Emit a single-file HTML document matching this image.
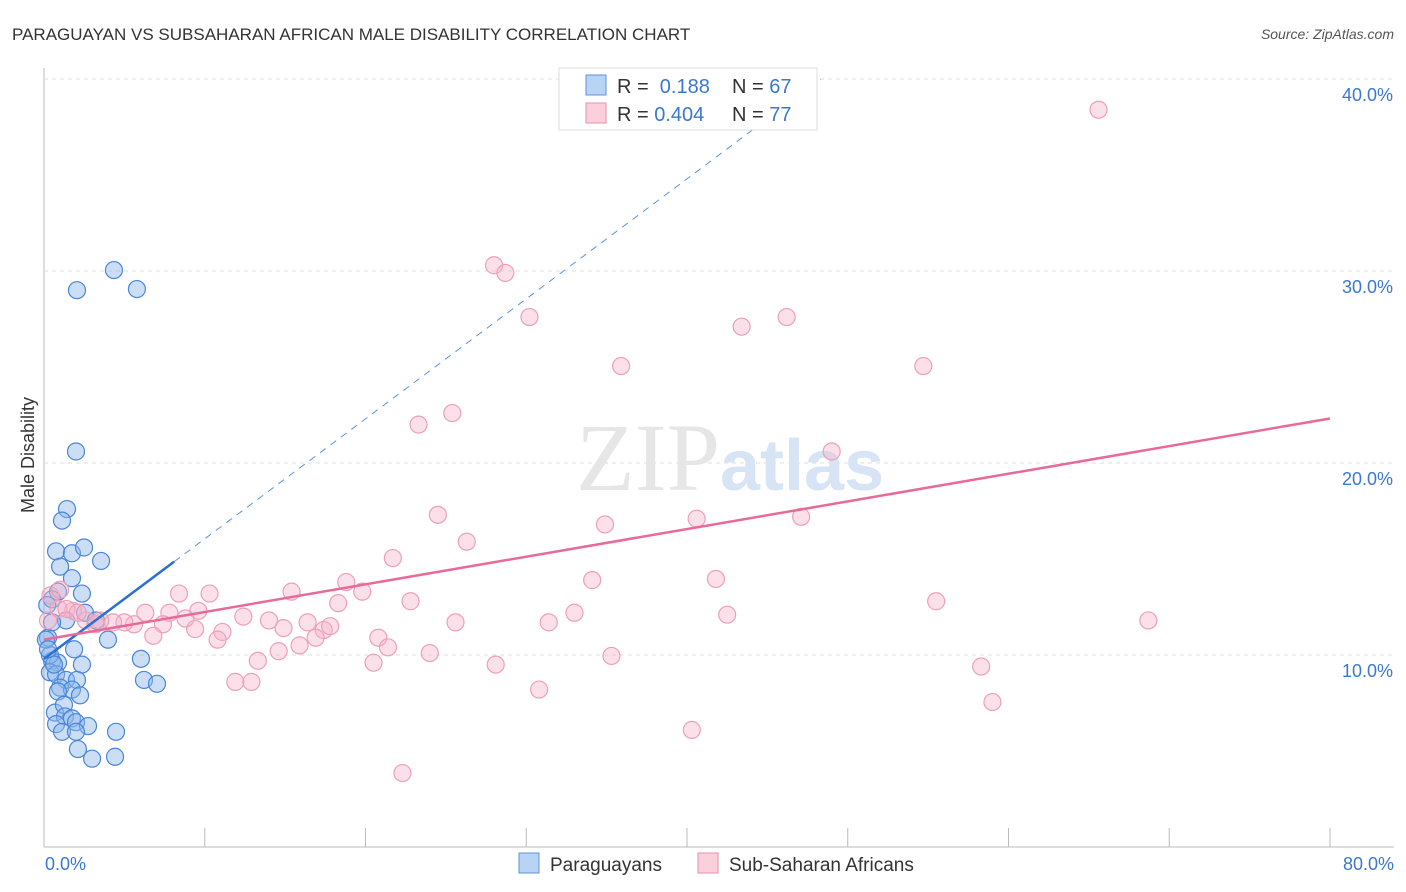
<!DOCTYPE html>
<html><head><meta charset="utf-8"><style>
body{margin:0;background:#fff;font-family:"Liberation Sans",sans-serif;}
svg{display:block}
</style></head><body>
<svg id="chart" width="1406" height="892">
<text x="12" y="40" font-size="17" fill="#333">PARAGUAYAN VS SUBSAHARAN AFRICAN MALE DISABILITY CORRELATION CHART</text>
<text x="1394" y="39" font-size="14" fill="#555" font-style="italic" text-anchor="end">Source: ZipAtlas.com</text>
<g id="grid"></g>
<text x="720" y="490" font-size="96" fill="#e6e6e6" font-family="Liberation Serif" text-anchor="end">ZIP</text>
<text x="720" y="490" font-size="72" fill="#d6e4f5" font-weight="bold">atlas</text>
<g id="points"></g>
<g id="lines"></g>
<text transform="translate(34,455) rotate(-90)" font-size="18" fill="#333" text-anchor="middle">Male Disability</text>
<text x="45" y="870" font-size="18" fill="#3a78d0">0.0%</text>
<text x="1394" y="870" font-size="18" fill="#3a78d0" text-anchor="end">80.0%</text>
<g>
<rect x="559" y="68" width="258" height="62" fill="#fff" stroke="#ddd"/>
<rect x="586" y="75" width="20" height="20" fill="#b9d3f5" stroke="#5b93dc"/>
<rect x="586" y="103" width="20" height="20" fill="#fbcfdc" stroke="#e98fab"/>
<text x="617" y="93" font-size="20" fill="#333">R = <tspan fill="#3a78d0">&#160;0.188</tspan></text>
<text x="732" y="93" font-size="20" fill="#333">N = <tspan fill="#3a78d0">67</tspan></text>
<text x="617" y="121" font-size="20" fill="#333">R = <tspan fill="#3a78d0">0.404</tspan></text>
<text x="732" y="121" font-size="20" fill="#333">N = <tspan fill="#3a78d0">77</tspan></text>
</g>
<g>
<rect x="519" y="853" width="20" height="20" fill="#b9d3f5" stroke="#5b93dc"/>
<text x="550" y="871" font-size="19" fill="#333">Paraguayans</text>
<rect x="698" y="853" width="20" height="20" fill="#fbcfdc" stroke="#e98fab"/>
<text x="729" y="871" font-size="19" fill="#333">Sub-Saharan Africans</text>
</g>
</svg>
<script>
const yTicks=[10,20,30,40];
const xTicks=[0,10,20,30,40,50,60,70,80];
const blueX=[4.35,2.05,5.78,1.99,1.43,1.12,0.75,1.74,2.49,3.55,1.0,1.74,0.87,2.36,0.5,2.55,1.37,3.23,0.25,3.98,1.87,0.5,0.87,2.36,6.03,0.37,0.75,1.37,6.22,7.03,1.0,2.05,1.74,2.24,0.87,0.68,1.24,1.31,1.74,0.75,1.99,2.74,1.12,1.99,4.48,2.11,2.99,4.42,0.37,0.62,0.12,0.25,0.2,0.5];
const blueY=[30.05,29.0,29.06,20.6,17.6,17.0,15.4,15.3,15.6,14.9,14.6,14.0,13.3,13.2,12.9,12.2,11.8,11.8,10.9,10.8,10.3,9.7,9.6,9.5,9.8,9.1,9.0,8.7,8.7,8.5,8.3,8.7,8.2,7.9,8.1,7.0,7.4,6.8,6.7,6.4,6.5,6.3,6.0,6.0,6.0,5.1,4.6,4.7,10.0,9.5,10.8,10.3,12.6,11.7];
const pinkX=[65.6,28.0,28.7,30.2,43.4,46.2,35.9,54.7,25.4,23.3,49.0,24.5,40.6,47.1,34.9,26.3,21.7,34.1,41.8,18.8,15.4,19.8,8.4,10.3,22.8,55.5,18.3,33.0,68.7,25.6,31.4,42.5,14.0,16.4,17.4,12.4,17.8,9.6,7.8,6.3,8.8,7.4,5.6,5.0,4.3,3.5,2.6,1.8,0.9,0.4,0.25,11.1,9.4,6.8,10.8,14.9,16.9,20.8,15.9,21.4,14.6,24.0,35.3,13.3,20.5,28.1,58.3,11.9,12.9,30.8,59.0,40.3,22.3,3.2,1.4,1.0,2.1];
const pinkY=[38.4,30.3,29.9,27.6,27.1,27.6,25.05,25.05,22.6,22.0,20.6,17.3,17.1,17.2,16.8,15.9,15.05,13.9,13.96,13.8,13.3,13.3,13.2,13.2,12.8,12.8,12.7,12.2,11.8,11.7,11.7,12.1,11.8,11.7,11.3,12.0,11.5,12.3,12.2,12.2,11.9,11.6,11.6,11.7,11.7,11.8,11.8,12.3,12.4,13.1,11.8,11.2,11.35,11.0,10.8,11.4,10.9,10.9,10.5,10.4,10.2,10.1,9.95,9.7,9.6,9.5,9.4,8.6,8.6,8.2,7.55,6.1,3.85,11.6,12.4,13.4,12.2];
const blueTrend=[9.8,0.625];
const pinkTrend=[10.8,0.144];
const NS='http://www.w3.org/2000/svg';
const X=v=>44+v*(1286/80);
const Y=v=>847-v*19.2;
function mk(tag,attrs,parent){const e=document.createElementNS(NS,tag);for(const k in attrs)e.setAttribute(k,attrs[k]);parent.appendChild(e);return e;}
const grid=document.getElementById('grid');
const ax=mk('line',{x1:44,y1:68,x2:44,y2:847,stroke:'#bbb'},grid);


const bx=mk('line',{x1:44,y1:847,x2:1394,y2:847,stroke:'#bbb'},grid);


yTicks.forEach(t=>{
 const g=mk('line',{x1:44,y1:Y(t),x2:1394,y2:Y(t),stroke:'#ddd','stroke-dasharray':'4,4'},grid);
 
 
 const l=mk('text',{x:1393,y:Y(t)+22,'font-size':18,fill:'#3a78d0','text-anchor':'end'},grid);
 l.textContent=t.toFixed(1)+'%';
 
 
});
xTicks.forEach(t=>{
 const k=mk('line',{x1:X(t),y1:828,x2:X(t),y2:847,stroke:'#bbb'},grid);
 
 
});
const pts=document.getElementById('points');
blueX.forEach((v,i)=>{
 const c=mk('circle',{cx:X(v),cy:Y(blueY[i]),r:8.5,fill:'rgba(140,182,236,0.45)',stroke:'#4a86d8','stroke-width':1.2},pts);
 
 
});
pinkX.forEach((v,i)=>{
 const c=mk('circle',{cx:X(v),cy:Y(pinkY[i]),r:8.5,fill:'rgba(247,178,200,0.4)',stroke:'#eda0b8','stroke-width':1.2},pts);
 
 
});
const ln=document.getElementById('lines');
const bd=mk('line',{x1:X(8.1),y1:Y(blueTrend[0]+blueTrend[1]*8.1),x2:X(48.3),y2:Y(blueTrend[0]+blueTrend[1]*48.3),stroke:'#5b93dc','stroke-width':1,'stroke-dasharray':'7,6'},ln);


const bs=mk('line',{x1:X(0),y1:Y(blueTrend[0]),x2:X(8.1),y2:Y(blueTrend[0]+blueTrend[1]*8.1),stroke:'#2a6fd6','stroke-width':2.5},ln);


const ps=mk('line',{x1:X(0),y1:Y(pinkTrend[0]),x2:X(80),y2:Y(pinkTrend[0]+pinkTrend[1]*80),stroke:'#e8699a','stroke-width':2.5},ln);


</script>
</body></html>
